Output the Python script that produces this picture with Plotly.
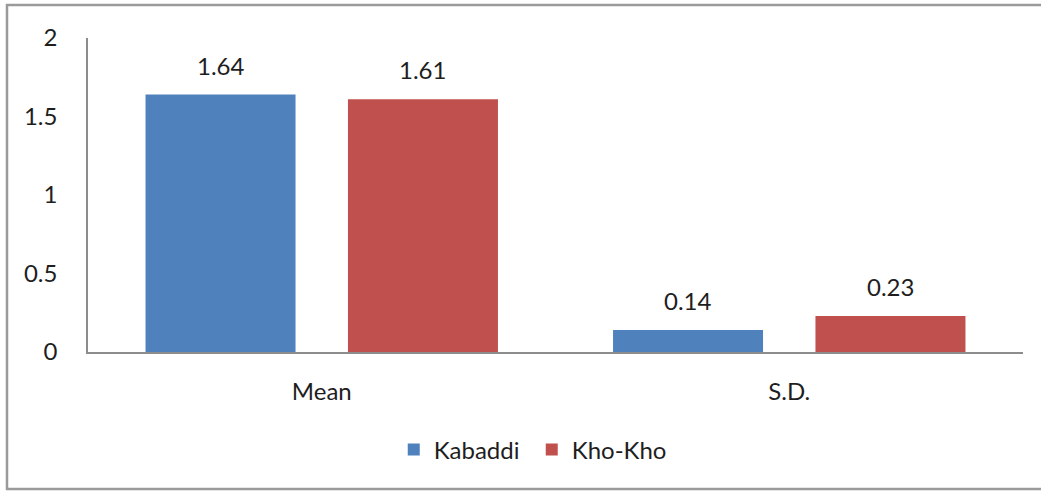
import plotly.graph_objects as go

categories = ["Mean", "S.D."]
kabaddi = [1.64, 0.14]
khokho = [1.61, 0.23]
series_names = ["Kabaddi", "Kho-Kho"]
colors = ["#4F81BD", "#C0504D"]
y_ticks = [0, 0.5, 1, 1.5, 2]
y_ticktext = ["0", "0.5", "1", "1.5", "2"]

FONT = "Lato, Open Sans, DejaVu Sans, sans-serif"
TXT = "#1e1e1e"
FS = 24

fig = go.Figure()
offsets = [-101, 101]
annotations = []
for name, vals, col, off in zip(series_names, [kabaddi, khokho], colors, offsets):
    fig.add_trace(go.Bar(
        x=categories, y=vals, name=name,
        marker=dict(color=col, line=dict(width=0)),
    ))
    for c, v in zip(categories, vals):
        annotations.append(dict(x=c, y=v, xref="x", yref="y", text=f"{v:.2f}",
                                showarrow=False, xshift=off, yanchor="bottom", yshift=13,
                                font=dict(family=FONT, size=FS, color=TXT)))

fig.update_layout(
    width=1041, height=491,
    margin=dict(l=88, r=18, t=38, b=139),
    paper_bgcolor="white", plot_bgcolor="white",
    barmode="group", bargap=0.134, bargroupgap=0.259,
    font=dict(family=FONT, size=FS, color=TXT),
    showlegend=True,
    legend=dict(orientation="h", x=0.327, xanchor="left", y=-0.24, yanchor="top",
                font=dict(family=FONT, size=FS, color=TXT), itemwidth=30,
                entrywidth=93, traceorder="normal"),
    xaxis=dict(showline=True, linecolor="#8c8c8c", linewidth=1.5, ticks="",
               tickfont=dict(family=FONT, size=FS, color=TXT), ticklabelstandoff=17,
               showgrid=False, zeroline=False),
    yaxis=dict(range=[0, 2], tickvals=y_ticks, ticktext=y_ticktext, showline=True,
               linecolor="#8c8c8c", linewidth=1.5, ticks="", showgrid=False,
               zeroline=False, ticklabelstandoff=24,
               tickfont=dict(family=FONT, size=FS, color=TXT)),
    annotations=annotations,
    shapes=[dict(type="rect", xref="paper", yref="paper",
                 x0=(7 - 88) / 935, x1=(1045 - 88) / 935,
                 y0=(352 - 489) / 314, y1=(352 - 5) / 314,
                 line=dict(color="#9a9a9a", width=2.5), fillcolor="rgba(0,0,0,0)", layer="below")],
)

fig.write_html("out.html")
